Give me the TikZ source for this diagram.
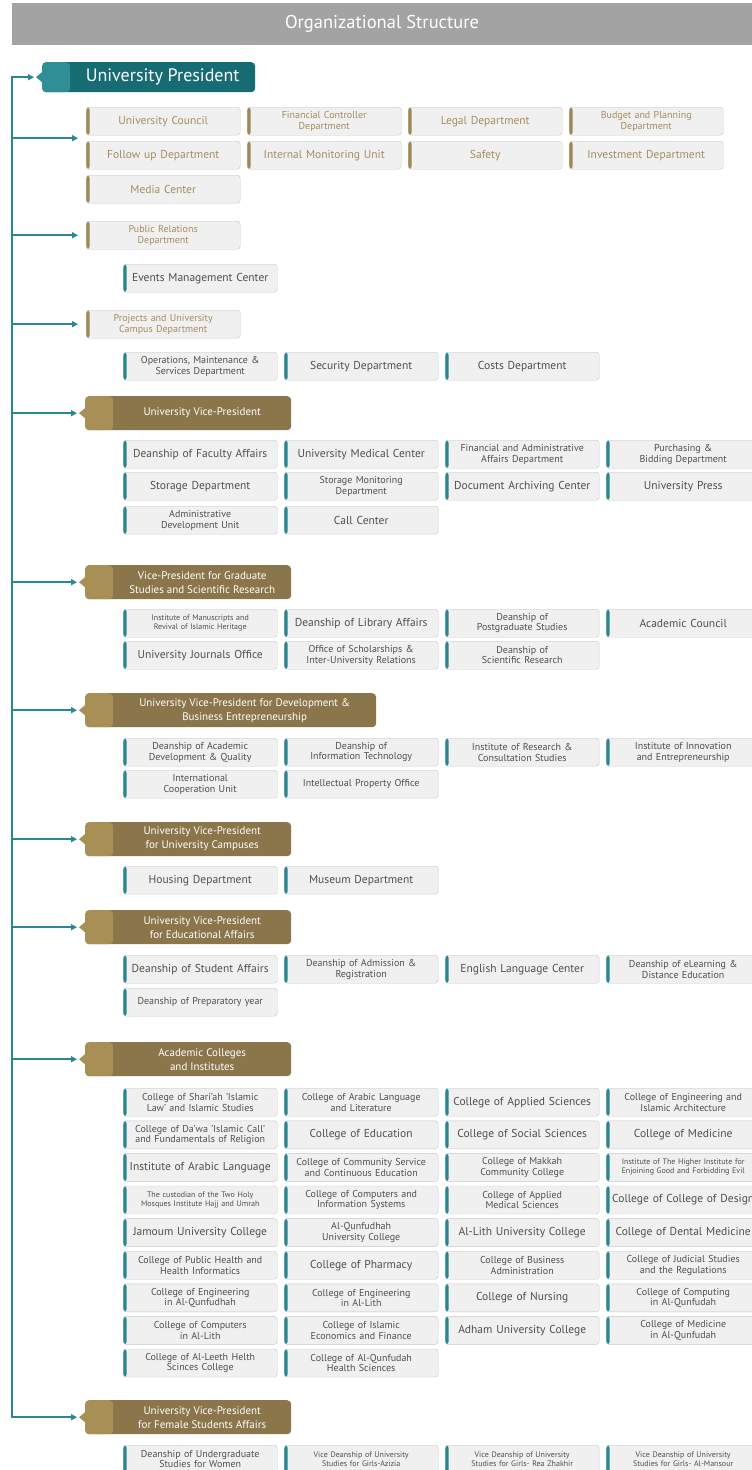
\documentclass[tikz,border=0pt]{standalone}
\usepackage{fontspec}
\setmainfont{PT Sans}
\usetikzlibrary{arrows.meta,calc}

\definecolor{titlegray}{RGB}{163,163,163}
\definecolor{presdark}{RGB}{23,107,115}
\definecolor{preslight}{RGB}{47,142,150}
\definecolor{golddark}{RGB}{139,117,74}
\definecolor{goldlight}{RGB}{168,143,86}
\definecolor{linkteal}{RGB}{42,135,145}
\definecolor{barteal}{RGB}{42,135,145}
\definecolor{bargold}{RGB}{160,135,85}
\definecolor{boxfill}{RGB}{240,240,240}
\definecolor{boxline}{RGB}{200,200,200}
\definecolor{textgray}{RGB}{80,80,80}
\definecolor{goldtext}{RGB}{165,140,95}

\tikzset{
  unit/.style={draw=boxline, fill=boxfill, rounded corners=3pt, anchor=north west,
    minimum width=154pt, minimum height=28pt, text width=150pt, inner sep=0pt,
    align=center, text=textgray, font=\fontsize{10}{10.6}\selectfont,
    path picture={\fill[#1] (path picture bounding box.north west) rectangle
      ([xshift=3.5pt]path picture bounding box.south west);}},
  unit/.default=barteal,
  gunit/.style={unit=bargold, text=goldtext},
  one/.style={font=\fontsize{11.5}{12}\selectfont},
  tiny/.style={font=\fontsize{8}{9}\selectfont},
  head/.style 2 args={fill=#1, rounded corners=4pt, anchor=north west, inner sep=0pt,
    minimum width=206pt, minimum height=34pt,
    path picture={\fill[#2] (path picture bounding box.north west) rectangle
      ([xshift=28pt]path picture bounding box.south west);}},
  head/.default={golddark}{goldlight},
  headtext/.style={text=white, align=center, xshift=14pt, font=\fontsize{11}{14}\selectfont},
  link/.style={draw=linkteal, line width=2pt, ->},
  titlebar/.style={fill=titlegray, text=white, minimum width=740pt, minimum height=42pt,
    font=\fontsize{18.5}{20}\selectfont}
}

\begin{document}
\begin{tikzpicture}[x=1pt, y=-1pt, >={Triangle[length=6pt, width=6pt]}]
\useasboundingbox (0,0) rectangle (752,1470);
\fill[white] (0,0) rectangle (752,1470);
\node[titlebar] (title) at (382,24) {Organizational Structure};
% president and his offices
\node[head={presdark}{preslight}, minimum width=213pt, minimum height=30pt,
  label={[headtext, font=\fontsize{18}{20}\selectfont]center:University President}] (pres) at (42,62) {};
\node[gunit, one] (uc) at (86,107) {University Council};
\node[gunit] (fincon) at (247,107) {Financial Controller\\Department};
\node[gunit, one] (legal) at (408,107) {Legal Department};
\node[gunit] (budget) at (569,107) {Budget and Planning\\Department};
\node[gunit, one] (follow) at (86,141) {Follow up Department};
\node[gunit, one] (intmon) at (247,141) {Internal Monitoring Unit};
\node[gunit, one] (safety) at (408,141) {Safety};
\node[gunit, one] (invest) at (569,141) {Investment Department};
\node[gunit, one] (media) at (86,175) {Media Center};
\coordinate (council) at ($(uc.south west)!.5!(follow.north west)$);
\node[gunit] (pr) at (86,221) {Public Relations\\Department};
\node[unit, one] (events) at (123,264) {Events Management Center};
\node[gunit] (proj) at (86,310) {Projects and University\\Campus Department};
\node[unit] (opsm) at (123,352) {Operations, Maintenance \&\\Services Department};
\node[unit, one] (security) at (284,352) {Security Department};
\node[unit, one] (costs) at (445,352) {Costs Department};
% vice-president
\node[head, label={[headtext]center:University Vice-President}] (vp) at (85,396) {};
\node[unit, one] (fac) at (123,440) {Deanship of Faculty Affairs};
\node[unit, one] (medc) at (284,440) {University Medical Center};
\node[unit] (finadm) at (445,440) {Financial and Administrative\\Affairs Department};
\node[unit] (purch) at (606,440) {Purchasing \&\\Bidding Department};
\node[unit, one] (stor) at (123,472) {Storage Department};
\node[unit] (stormon) at (284,472) {Storage Monitoring\\Department};
\node[unit, one] (archiv) at (445,472) {Document Archiving Center};
\node[unit, one] (press) at (606,472) {University Press};
\node[unit] (admdev) at (123,506) {Administrative\\Development Unit};
\node[unit, one] (call) at (284,506) {Call Center};
% graduate studies
\node[head, label={[headtext]center:{Vice-President for Graduate\\Studies and Scientific Research}}] (grad) at (85,565) {};
\node[unit, tiny] (manus) at (123,609) {Institute of Manuscripts and\\Revival of Islamic Heritage};
\node[unit, one] (libr) at (284,609) {Deanship of Library Affairs};
\node[unit] (postg) at (445,609) {Deanship of\\Postgraduate Studies};
\node[unit, one] (acadc) at (606,609) {Academic Council};
\node[unit, one] (journ) at (123,641) {University Journals Office};
\node[unit] (schol) at (284,641) {Office of Scholarships \&\\Inter-University Relations};
\node[unit] (scires) at (445,641) {Deanship of\\Scientific Research};
% development
\node[head, minimum width=291pt, label={[headtext]center:{University Vice-President for Development \&\\Business Entrepreneurship}}] (dev) at (85,693) {};
\node[unit] (acadev) at (123,738) {Deanship of Academic\\Development \& Quality};
\node[unit] (infotech) at (284,738) {Deanship of\\Information Technology};
\node[unit] (resinst) at (445,738) {Institute of Research \&\\Consultation Studies};
\node[unit] (innov) at (606,738) {Institute of Innovation\\and Entrepreneurship};
\node[unit] (intcoop) at (123,770) {International\\Cooperation Unit};
\node[unit] (intprop) at (284,770) {Intellectual Property Office};
% campuses
\node[head, label={[headtext]center:{University Vice-President\\for University Campuses}}] (camp) at (85,822) {};
\node[unit, one] (housing) at (123,866) {Housing Department};
\node[unit, one] (museum) at (284,866) {Museum Department};
% educational affairs
\node[head, label={[headtext]center:{University Vice-President\\for Educational Affairs}}] (edu) at (85,910) {};
\node[unit, one] (stuaff) at (123,955) {Deanship of Student Affairs};
\node[unit] (admis) at (284,955) {Deanship of Admission \&\\Registration};
\node[unit, one] (english) at (445,955) {English Language Center};
\node[unit] (elearn) at (606,955) {Deanship of eLearning \&\\Distance Education};
\node[unit] (prep) at (123,988) {Deanship of Preparatory year};
% colleges
\node[head, label={[headtext]center:{Academic Colleges\\and Institutes}}] (acad) at (85,1042) {};
\node[unit] (c11) at (123,1088) {College of Shari'ah 'Islamic\\Law' and Islamic Studies};
\node[unit] (c12) at (284,1088) {College of Arabic Language\\and Literature};
\node[unit, one] (c13) at (445,1088) {College of Applied Sciences};
\node[unit] (c14) at (606,1088) {College of Engineering and\\Islamic Architecture};
\node[unit] (c21) at (123,1120.6) {College of Da'wa 'Islamic Call'\\and Fundamentals of Religion};
\node[unit, one] (c22) at (284,1120.6) {College of Education};
\node[unit, one] (c23) at (445,1120.6) {College of Social Sciences};
\node[unit, one] (c24) at (606,1120.6) {College of Medicine};
\node[unit, one] (c31) at (123,1153.2) {Institute of Arabic Language};
\node[unit] (c32) at (284,1153.2) {College of Community Service\\and Continuous Education};
\node[unit] (c33) at (445,1153.2) {College of Makkah\\Community College};
\node[unit, tiny] (c34) at (606,1153.2) {Institute of The Higher Institute for\\Enjoining Good and Forbidding Evil};
\node[unit, tiny] (c41) at (123,1185.8) {The custodian of the Two Holy\\Mosques Institute Hajj and Umrah};
\node[unit] (c42) at (284,1185.8) {College of Computers and\\Information Systems};
\node[unit] (c43) at (445,1185.8) {College of Applied\\Medical Sciences};
\node[unit, one] (c44) at (606,1185.8) {College of College of Design};
\node[unit, one] (c51) at (123,1218.4) {Jamoum University College};
\node[unit] (c52) at (284,1218.4) {Al-Qunfudhah\\University College};
\node[unit, one] (c53) at (445,1218.4) {Al-Lith University College};
\node[unit, one] (c54) at (606,1218.4) {College of Dental Medicine};
\node[unit] (c61) at (123,1251) {College of Public Health and\\Health Informatics};
\node[unit, one] (c62) at (284,1251) {College of Pharmacy};
\node[unit] (c63) at (445,1251) {College of Business\\Administration};
\node[unit] (c64) at (606,1251) {College of Judicial Studies\\and the Regulations};
\node[unit] (c71) at (123,1283.6) {College of Engineering\\in Al-Qunfudhah};
\node[unit] (c72) at (284,1283.6) {College of Engineering\\in Al-Lith};
\node[unit, one] (c73) at (445,1283.6) {College of Nursing};
\node[unit] (c74) at (606,1283.6) {College of Computing\\in Al-Qunfudah};
\node[unit] (c81) at (123,1316.2) {College of Computers\\in Al-Lith};
\node[unit] (c82) at (284,1316.2) {College of Islamic\\Economics and Finance};
\node[unit, one] (c83) at (445,1316.2) {Adham University College};
\node[unit] (c84) at (606,1316.2) {College of Medicine\\in Al-Qunfudah};
\node[unit] (c91) at (123,1348.8) {College of Al-Leeth Helth\\Scinces College};
\node[unit] (c92) at (284,1348.8) {College of Al-Qunfudah\\Health Sciences};
% female students
\node[head, label={[headtext]center:{University Vice-President\\for Female Students Affairs}}] (fem) at (85,1400) {};
\node[unit] (undergr) at (123,1445) {Deanship of Undergraduate\\Studies for Women};
\node[unit, tiny] (aziz) at (284,1445) {Vice Deanship of University\\Studies for Girls-Azizia};
\node[unit, tiny] (zhakhir) at (445,1445) {Vice Deanship of University\\Studies for Girls- Rea Zhakhir};
\node[unit, tiny] (mansour) at (606,1445) {Vice Deanship of University\\Studies for Girls- Al-Mansour};
% notches
\foreach \n/\c in {pres/preslight, vp/goldlight, grad/goldlight, dev/goldlight,
  camp/goldlight, edu/goldlight, acad/goldlight, fem/goldlight}
  \fill[\c] ([yshift=5pt]\n.west) -- ++(-6pt,-5pt) -- ++(6pt,-5pt) -- cycle;
% trunk and branches
\coordinate (trunk) at (12,0);
\draw[link, <->] ([xshift=-8pt]fem.west) -- (trunk |- fem.west) -- (trunk |- pres.west) -- ([xshift=-8pt]pres.west);
\draw[link] (trunk |- council) -- ([xshift=-8pt]council);
\foreach \n in {pr, proj, vp, grad, dev, camp, edu, acad}
  \draw[link] (trunk |- \n.west) -- ([xshift=-8pt]\n.west);
\end{tikzpicture}
\end{document}
